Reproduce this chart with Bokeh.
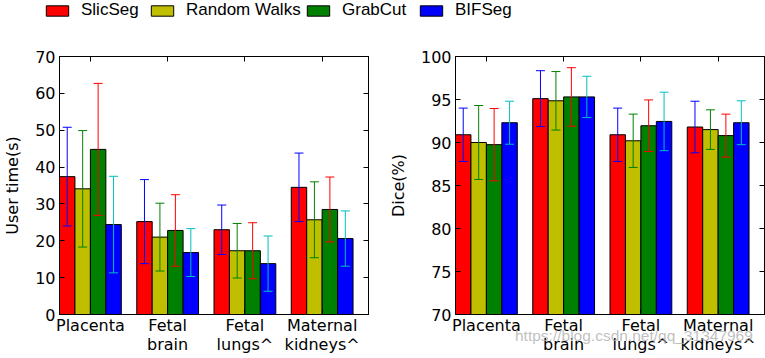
from bokeh.plotting import figure
from bokeh.models import (ColumnDataSource, Range1d, FixedTicker, LinearAxis, Whisker,
                          TeeHead, Legend, LegendItem, Div)
from bokeh.layouts import column, row
from bokeh.embed import file_html
from bokeh.resources import INLINE

categories = ["Placenta", "Fetal\nbrain", "Fetal\nlungs^", "Maternal\nkidneys^"]
methods = ["SlicSeg", "Random Walks", "GrabCut", "BIFSeg"]
bar_colors = ["#ff0000", "#bfbf00", "#008000", "#0000ff"]
err_colors = ["#0000ff", "#008000", "#ff0000", "#00bfbf"]

time_mean = {
    "SlicSeg":      [37.4, 25.2, 23.0, 34.5],
    "Random Walks": [34.1, 21.0, 17.3, 25.7],
    "GrabCut":      [44.8, 22.8, 17.3, 28.5],
    "BIFSeg":       [24.4, 16.8, 13.8, 20.6],
}
time_std = {
    "SlicSeg":      [13.4, 11.4, 6.7, 9.3],
    "Random Walks": [15.8, 9.2, 7.4, 10.3],
    "GrabCut":      [17.9, 9.7, 7.6, 8.8],
    "BIFSeg":       [13.1, 6.5, 7.5, 7.5],
}
dice_mean = {
    "SlicSeg":      [90.9, 95.1, 90.9, 91.8],
    "Random Walks": [90.0, 94.85, 90.2, 91.5],
    "GrabCut":      [89.75, 95.3, 91.95, 90.8],
    "BIFSeg":       [92.3, 95.3, 92.45, 92.3],
}
dice_std = {
    "SlicSeg":      [3.1, 3.25, 3.1, 3.0],
    "Random Walks": [4.3, 3.4, 3.1, 2.3],
    "GrabCut":      [4.2, 3.4, 3.0, 2.5],
    "BIFSeg":       [2.5, 2.4, 3.4, 2.55],
}
time_ticks = [0, 10, 20, 30, 40, 50, 60, 70]
dice_ticks = [70, 75, 80, 85, 90, 95, 100]
watermark = "https://blog.csdn.net/qq_31347969"

FONT = "DejaVu Sans"
BAR_W = 0.2


def make_panel(means, stds, y0, y1, yticks, ylabel, border_left, border_right):
    p = figure(frame_width=309, frame_height=258, x_range=Range1d(-0.4, 3.6),
               y_range=Range1d(y0, y1),
               output_backend="svg", toolbar_location=None,
               min_border_left=border_left, min_border_right=border_right,
               min_border_top=8, min_border_bottom=44)
    p.xgrid.visible = False
    p.ygrid.visible = False
    p.outline_line_color = "black"
    p.outline_line_width = 1
    for i, m in enumerate(methods):
        xs = [g + (i - 1.5) * BAR_W for g in range(len(categories))]
        top = means[m]
        src = ColumnDataSource(dict(x=xs, top=top,
                                    upper=[t + s for t, s in zip(top, stds[m])],
                                    lower=[t - s for t, s in zip(top, stds[m])]))
        p.vbar(x="x", top="top", bottom=0, width=BAR_W, source=src,
               fill_color=bar_colors[i], line_color="black", line_width=1)
        w = Whisker(base="x", upper="upper", lower="lower", source=src, dimension="height",
                    line_color=err_colors[i], line_width=1, level="annotation",
                    upper_head=TeeHead(size=9, line_color=err_colors[i], line_width=1),
                    lower_head=TeeHead(size=9, line_color=err_colors[i], line_width=1))
        p.add_layout(w)

    def style(ax, labels, ticks):
        ax.major_tick_in = 5
        ax.major_tick_out = 0
        ax.minor_tick_line_color = None
        ax.axis_line_color = "black"
        ax.major_tick_line_color = "black"
        if labels:
            ax.major_label_text_font = FONT
            ax.major_label_text_font_size = "16px"
            ax.major_label_text_color = "black"
        else:
            ax.major_label_overrides = {t: "" for t in ticks}
            ax.major_label_standoff = 0

    xt = list(range(len(categories)))
    xticker = FixedTicker(ticks=xt)
    yticker = FixedTicker(ticks=yticks)
    xa = p.xaxis[0]
    xa.ticker = xticker
    xa.major_label_overrides = {i: c for i, c in enumerate(categories)}
    style(xa, True, xt)
    xa.major_label_standoff = 1
    xa.major_label_text_line_height = 1.0
    ya = p.yaxis[0]
    ya.ticker = yticker
    style(ya, True, yticks)
    ya.major_label_standoff = 4
    ya.axis_label = ylabel
    ya.axis_label_text_font = FONT
    ya.axis_label_text_font_size = "16px"
    ya.axis_label_text_font_style = "normal"
    ya.axis_label_text_color = "black"
    ya.axis_label_standoff = 10

    top_ax = LinearAxis(ticker=xticker)
    style(top_ax, False, xt)
    p.add_layout(top_ax, "above")
    right_ax = LinearAxis(ticker=yticker)
    style(right_ax, False, yticks)
    p.add_layout(right_ax, "right")
    return p


left = make_panel(time_mean, time_std, 0, 70, time_ticks, "User time(s)", 54, 17)
right = make_panel(dice_mean, dice_std, 70, 100, dice_ticks, "Dice(%)", 61, 15)

lf = figure(width=765, height=48, x_range=Range1d(0, 1), y_range=Range1d(0, 1),
            output_backend="svg", toolbar_location=None, x_axis_type=None, y_axis_type=None,
            min_border=0)
lf.outline_line_color = None
lf.xgrid.visible = False
lf.ygrid.visible = False
legend_x = [43, 148, 304, 417]
for i, m in enumerate(methods):
    r = lf.vbar(x=[5], top=[5], width=0.1, fill_color=bar_colors[i],
                line_color="black", line_width=1)
    lg = Legend(items=[LegendItem(label=m, renderers=[r])], location=(legend_x[i], 28),
                glyph_width=28, glyph_height=13, label_standoff=10,
                padding=0, margin=0, border_line_color=None, background_fill_alpha=0,
                label_text_font="Liberation Sans", label_text_font_size="17px",
                label_text_color="black")
    lf.add_layout(lg)

# faint watermark of the source image, laid over the lower right tick labels
wm = Div(text=watermark, width=260, height=20,
         styles={"position": "absolute", "left": "510px", "top": "320px",
                 "font-family": "Liberation Sans", "font-size": "15.5px",
                 "color": "rgba(170,170,170,0.75)", "white-space": "nowrap",
                 "pointer-events": "none"})

layout = column(lf, row(left, right), wm)
open("out.html", "w").write(file_html(layout, INLINE))
